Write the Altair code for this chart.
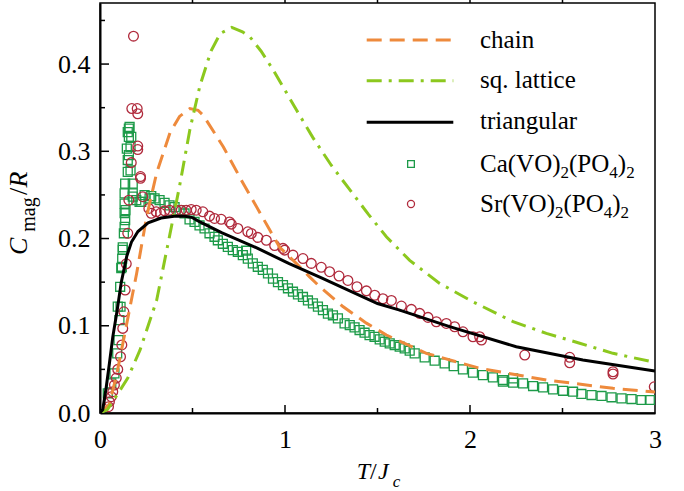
import altair as alt
import pandas as pd

# ---------------- data ----------------
chain_T = [0, 0.05, 0.09, 0.135, 0.198, 0.252, 0.306, 0.378, 0.43, 0.486, 0.53, 0.559, 0.667,
           0.764, 0.826, 0.917, 0.971, 1.061, 1.133, 1.187, 1.313, 1.44, 1.548, 1.764, 2.053,
           2.413, 2.773, 3.0]
chain_C = [0, 0.010, 0.044, 0.092, 0.160, 0.225, 0.275, 0.321, 0.340, 0.349, 0.347, 0.341, 0.305,
           0.267, 0.244, 0.210, 0.190, 0.1716, 0.156, 0.145, 0.122, 0.103, 0.0894, 0.0684, 0.0512,
           0.0378, 0.0283, 0.024]

sq_T = [0, 0.04, 0.081, 0.15, 0.216, 0.306, 0.378, 0.43, 0.486, 0.54, 0.6, 0.65, 0.712, 0.77,
        0.811, 0.87, 0.937, 1.0, 1.063, 1.15, 1.25, 1.35, 1.45, 1.548, 1.674, 1.836, 2.016,
        2.233, 2.413, 2.593, 2.773, 3.0]
sq_C = [0, 0.004, 0.017, 0.04, 0.072, 0.129, 0.205, 0.26, 0.325, 0.375, 0.415, 0.435, 0.442,
        0.437, 0.431, 0.415, 0.393, 0.37, 0.347, 0.316, 0.284, 0.256, 0.228, 0.202, 0.175,
        0.1486, 0.1275, 0.1047, 0.0913, 0.08, 0.0684, 0.058]

tri_T = [0, 0.015, 0.034, 0.051, 0.069, 0.093, 0.115, 0.145, 0.17, 0.205, 0.26, 0.33, 0.4,
         0.46, 0.5, 0.54, 0.66, 0.85, 1.02, 1.2, 1.35, 1.5, 1.62, 1.89, 2.25, 2.61, 3.0]
tri_C = [0, 0.004, 0.030, 0.057, 0.087, 0.118, 0.150, 0.180, 0.196, 0.208, 0.218, 0.2235,
         0.2255, 0.2255, 0.224, 0.219, 0.2065, 0.189, 0.1715, 0.1545, 0.140, 0.1255, 0.118,
         0.099, 0.076, 0.0607, 0.048]

ca_T = [0.042, 0.061, 0.078, 0.093, 0.096, 0.100, 0.105, 0.109, 0.111, 0.115, 0.118, 0.120,
        0.123, 0.123, 0.129, 0.133, 0.133, 0.133, 0.133, 0.136, 0.136, 0.138, 0.145, 0.150,
        0.150, 0.150, 0.156, 0.156, 0.156, 0.160, 0.169, 0.165, 0.165, 0.177, 0.177, 0.177,
        0.196, 0.214, 0.223, 0.241, 0.268, 0.277, 0.295, 0.322, 0.349, 0.376, 0.403, 0.430,
        0.457, 0.484, 0.511, 0.538, 0.565, 0.592, 0.619, 0.637, 0.664, 0.691, 0.718, 0.745,
        0.772, 0.790, 0.799, 0.826, 0.853, 0.880, 0.908, 0.935, 0.962, 0.989, 1.016, 1.043,
        1.070, 1.097, 1.124, 1.151, 1.178, 1.205, 1.232, 1.259, 1.286, 1.322, 1.350, 1.376,
        1.403, 1.430, 1.457, 1.484, 1.512, 1.539, 1.566, 1.593, 1.620, 1.647, 1.674, 1.701,
        1.755, 1.809, 1.863, 1.912, 1.962, 2.016, 2.070, 2.124, 2.178, 2.178, 2.233, 2.233,
        2.287, 2.341, 2.395, 2.449, 2.503, 2.557, 2.602, 2.657, 2.711, 2.765, 2.819, 2.873,
        2.927, 2.972]
ca_C = [0.0226, 0.034, 0.0455, 0.0684, 0.122, 0.0836, 0.1065, 0.1447, 0.1218, 0.166, 0.1676,
        0.177, 0.187, 0.190, 0.206, 0.2134, 0.229, 0.240, 0.2517, 0.221, 0.263, 0.2325, 0.303,
        0.2764, 0.290, 0.322, 0.326, 0.3165, 0.2955, 0.328, 0.3165, 0.305, 0.278, 0.263, 0.2517,
        0.248, 0.244, 0.242, 0.242, 0.2497, 0.246, 0.2486, 0.246, 0.244, 0.241, 0.238, 0.236,
        0.2325, 0.2287, 0.222, 0.219, 0.215, 0.2115, 0.206, 0.202, 0.198, 0.194, 0.1905, 0.1867,
        0.1848, 0.181, 0.186, 0.177, 0.1715, 0.1676, 0.164, 0.160, 0.154, 0.150, 0.1466, 0.143,
        0.139, 0.136, 0.133, 0.129, 0.1256, 0.122, 0.118, 0.114, 0.112, 0.1085, 0.1027, 0.1008,
        0.0982, 0.0951, 0.092, 0.0893, 0.0874, 0.0844, 0.0817, 0.0798, 0.0779, 0.076, 0.0741,
        0.0714, 0.0684, 0.0638, 0.0599, 0.0569, 0.0538, 0.050, 0.0462, 0.0435, 0.0409, 0.0378,
        0.0359, 0.0397, 0.0347, 0.034, 0.0309, 0.0294, 0.0271, 0.0255, 0.0244, 0.0218, 0.0206,
        0.0195, 0.018, 0.0168, 0.016, 0.0149, 0.0149]

sr_T = [0.046, 0.051, 0.061, 0.069, 0.078, 0.088, 0.096, 0.111, 0.118, 0.123, 0.129, 0.136,
        0.142, 0.150, 0.156, 0.169, 0.172, 0.181, 0.201, 0.204, 0.204, 0.204, 0.219, 0.219,
        0.231, 0.264, 0.277, 0.304, 0.327, 0.349, 0.376, 0.412, 0.439, 0.466, 0.493, 0.520,
        0.556, 0.592, 0.619, 0.655, 0.700, 0.710, 0.745, 0.799, 0.818, 0.853, 0.899, 0.944,
        0.989, 0.998, 1.043, 1.097, 1.142, 1.196, 1.241, 1.292, 1.340, 1.389, 1.440, 1.485,
        1.529, 1.575, 1.629, 1.683, 1.728, 1.773, 1.818, 1.872, 1.917, 1.962, 2.016, 2.062,
        2.052, 2.296, 2.539, 2.539, 2.773, 2.773, 2.996]
sr_C = [0.0072, 0.013, 0.0187, 0.0244, 0.032, 0.040, 0.050, 0.0645, 0.078, 0.097, 0.116, 0.141,
        0.171, 0.206, 0.244, 0.287, 0.349, 0.432, 0.349, 0.343, 0.306, 0.302, 0.271, 0.269,
        0.248, 0.2345, 0.229, 0.2306, 0.229, 0.2317, 0.2325, 0.2325, 0.2325, 0.2325, 0.2333,
        0.2325, 0.2306, 0.2257, 0.223, 0.222, 0.219, 0.2165, 0.2116, 0.2077, 0.2058, 0.2013,
        0.198, 0.192, 0.1887, 0.1867, 0.181, 0.177, 0.1715, 0.167, 0.162, 0.157, 0.152, 0.1447,
        0.140, 0.135, 0.131, 0.129, 0.1226, 0.1188, 0.1142, 0.1096, 0.1046, 0.1027, 0.0989,
        0.0931, 0.0874, 0.0836, 0.0874, 0.0664, 0.0638, 0.0576, 0.0473, 0.0447, 0.030]

x_major = [0, 1, 2, 3]
x_minor = [0.5, 1.5, 2.5]
y_major = [0, 0.1, 0.2, 0.3, 0.4]
y_minor = [0.05, 0.15, 0.25, 0.35, 0.45]

# ---------------- styling ----------------
FONT = "Liberation Serif"
W, H = 555, 410
C_CHAIN = "#ee8a3c"
C_SQ = "#8cc81e"
C_TRI = "#000000"
C_CA = "#1c9a48"
C_SR = "#b02a3c"

xs = alt.Scale(domain=[0, 3], nice=False, zero=False)
ys = alt.Scale(domain=[0, 0.47], nice=False, zero=False)
xaxis = alt.Axis(values=x_major, format="d", title=None, ticks=False, grid=False,
                 labelPadding=13, labelFontSize=26, labelFont=FONT, labelColor="black",
                 domainColor="black", domainWidth=2, labelFlush=False)
yaxis = alt.Axis(values=y_major, format=".1f", title=None, ticks=False, grid=False,
                 labelPadding=10, labelFontSize=26, labelFont=FONT, labelColor="black",
                 domainColor="black", domainWidth=2, labelFlush=False)

one = pd.DataFrame({"k": [0]})


def curve(T, C, color, dash=None):
    kw = dict(color=color, strokeWidth=3, clip=True)
    if dash:
        kw["strokeDash"] = dash
    return alt.Chart(pd.DataFrame({"T": T, "C": C})).mark_line(**kw).encode(
        x=alt.X("T:Q", scale=xs, axis=xaxis), y=alt.Y("C:Q", scale=ys, axis=yaxis))


def pts(T, C, color, shape, size):
    return alt.Chart(pd.DataFrame({"T": T, "C": C})).mark_point(
        shape=shape, filled=False, size=size, strokeWidth=1.3, color=color, opacity=1, clip=True
    ).encode(x=alt.X("T:Q", scale=xs, axis=xaxis), y=alt.Y("C:Q", scale=ys, axis=yaxis))


def xticks(vals, y1, y2):
    return alt.Chart(pd.DataFrame({"T": vals})).mark_rule(color="black", strokeWidth=1.5).encode(
        x=alt.X("T:Q", scale=xs, axis=xaxis), y=alt.value(y1), y2=alt.value(y2))


def yticks(vals, x1, x2):
    return alt.Chart(pd.DataFrame({"C": vals})).mark_rule(color="black", strokeWidth=1.5).encode(
        y=alt.Y("C:Q", scale=ys, axis=yaxis), x=alt.value(x1), x2=alt.value(x2))


def txt(s, x, y, size, italic=False, angle=None):
    kw = dict(text=s, font=FONT, fontSize=size, align="left", baseline="alphabetic",
              color="black")
    if italic:
        kw["fontStyle"] = "italic"
    if angle:
        kw["angle"] = angle
    return alt.Chart(one).mark_text(**kw).encode(x=alt.value(x), y=alt.value(y))


def legline(y, color, dash=None):
    kw = dict(color=color, strokeWidth=3)
    if dash:
        kw["strokeDash"] = dash
    return alt.Chart(one).mark_rule(**kw).encode(x=alt.value(266.7), x2=alt.value(353.3),
                                                 y=alt.value(y))


def legmark(y, color, shape, size):
    return alt.Chart(one).mark_point(shape=shape, filled=False, size=size, strokeWidth=1.3,
                                     color=color, opacity=1).encode(x=alt.value(311), y=alt.value(y))


def formula(prefix, x0, y, size=25, sub=17):
    # prefix(VO)2(PO4)2 composed from pieces with lowered subscripts
    layers = []
    w = {"C": 0.667, "a": 0.444, "S": 0.556, "r": 0.333, "(": 0.333, "V": 0.722, "O": 0.722,
         ")": 0.333, "P": 0.556}

    def width(s, fs):
        return sum(w.get(ch, 0.5) for ch in s) * fs
    x = x0
    for piece, is_sub in [(prefix + "(VO)", False), ("2", True), ("(PO", False), ("4", True),
                          (")", False), ("2", True)]:
        fs = sub if is_sub else size
        layers.append(txt(piece, x, y + (6 if is_sub else 0), fs))
        x += width(piece, fs)
    return layers


layers = [
    pts(ca_T, ca_C, C_CA, "square", 80),
    pts(sr_T, sr_C, C_SR, "circle", 95),
    curve(chain_T, chain_C, C_CHAIN, [15, 8]),
    curve(sq_T, sq_C, C_SQ, [15, 7, 3, 7]),
    curve(tri_T, tri_C, C_TRI),
    xticks(x_major[1:3], H, H - 8),
    xticks(x_minor, H, H - 5),
    xticks(x_minor + x_major[1:3], 0, -3),
    yticks(y_major[1:], 0, 9),
    yticks(y_minor, 0, 5),
    # legend
    legline(37, C_CHAIN, [15, 8]),
    legline(77.7, C_SQ, [15, 7, 3, 7]),
    legline(119.3, C_TRI),
    legmark(161, C_CA, "square", 45),
    legmark(201, C_SR, "circle", 50),
    txt("chain", 380, 45.3, 25),
    txt("sq. lattice", 380, 85.3, 25),
    txt("triangular", 380, 126.3, 25),
    *formula("Ca", 380, 168.7),
    *formula("Sr", 380, 208.7),
    # axis titles
    txt("T", 256.7, 476.3, 24, italic=True),
    txt("/", 270, 476.3, 24),
    txt("J", 278, 476.3, 24, italic=True),
    txt("c", 292.7, 483.7, 17, italic=True),
    txt("C", -73.3, 252, 26, italic=True, angle=270),
    txt("mag", -65, 228.7, 20, angle=270),
    txt("/", -73.3, 192, 26, angle=270),
    txt("R", -73.3, 184.5, 26, italic=True, angle=270),
]

chart = alt.layer(*layers).properties(
    width=W, height=H,
    padding={"left": 100, "top": 3, "right": 29, "bottom": 78},
    autosize=alt.AutoSizeParams(type="none"),
).configure_view(stroke="black", strokeWidth=1.5)

chart.save("out.html", embed_options={"renderer": "svg", "actions": False})
